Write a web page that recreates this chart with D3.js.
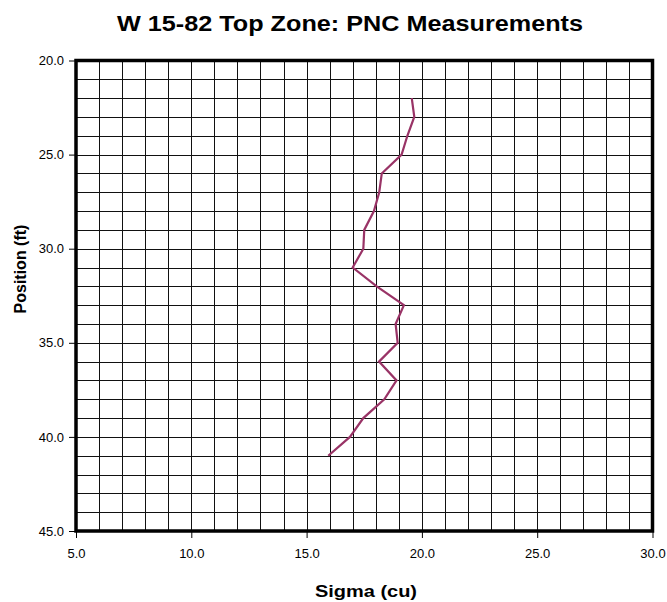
<!DOCTYPE html>
<html>
<head>
<meta charset="utf-8">
<script src="https://cdnjs.cloudflare.com/ajax/libs/d3/7.8.5/d3.min.js"></script>
<style>
  body { margin: 0; background: #fff; }
  text { font-family: "Liberation Sans", Arial, sans-serif; }
</style>
</head>
<body>
<div id="chart"></div>
<script>
// position (ft) down the well, sigma (cu)
var positions = [22, 23, 24, 25, 26, 27, 28, 29, 30, 31, 32, 33, 34, 35, 36, 37, 38, 39, 40, 41];
var sigmas    = [19.56, 19.67, 19.37, 19.12, 18.26, 18.15, 17.92, 17.5, 17.46, 17.0,
                 18.04, 19.22, 18.86, 18.95, 18.14, 18.9, 18.37, 17.46, 16.88, 15.94];
var xTicks = [5, 10, 15, 20, 25, 30];
var yTicks = [20, 25, 30, 35, 40, 45];

var width = 667, height = 602;
var plotLeft = 76, plotTop = 60.5, plotRight = 652.5, plotBottom = 531;

var svg = d3.select("#chart").append("svg")
  .attr("width", width)
  .attr("height", height);

var x = d3.scaleLinear().domain([5, 30]).range([plotLeft, plotRight]);
var y = d3.scaleLinear().domain([20, 45]).range([plotTop, plotBottom]);

// grid, one line per unit
var g = svg.append("g").attr("stroke", "#111").attr("stroke-width", 1).attr("shape-rendering", "crispEdges");
g.selectAll(".vx").data(d3.range(6, 30)).enter().append("line")
  .attr("x1", d => Math.round(x(d)) + 0.5).attr("x2", d => Math.round(x(d)) + 0.5)
  .attr("y1", plotTop).attr("y2", plotBottom);
g.selectAll(".hy").data(d3.range(21, 45)).enter().append("line")
  .attr("y1", d => Math.round(y(d)) + 0.5).attr("y2", d => Math.round(y(d)) + 0.5)
  .attr("x1", plotLeft).attr("x2", plotRight);

// axes
var xAxis = d3.axisBottom(x).tickValues(xTicks).tickSize(7).tickFormat(d3.format(".1f"));
var yAxis = d3.axisLeft(y).tickValues(yTicks).tickSize(7).tickFormat(d3.format(".1f"));

svg.append("g").attr("transform", "translate(0," + plotBottom + ")").call(xAxis)
  .call(a => a.select(".domain").remove())
  .call(a => a.selectAll("text").attr("font-size", 13).attr("fill", "#000").attr("y", 14).attr("dy", "1em"))
  .call(a => a.selectAll("line").attr("stroke", "#000"));
svg.append("g").attr("transform", "translate(" + plotLeft + ",0)").call(yAxis)
  .call(a => a.select(".domain").remove())
  .call(a => a.selectAll("text").attr("font-size", 13).attr("fill", "#000").attr("x", -12))
  .call(a => a.selectAll("line").attr("stroke", "#000"));

// frame
svg.append("rect")
  .attr("x", plotLeft).attr("y", plotTop)
  .attr("width", plotRight - plotLeft).attr("height", plotBottom - plotTop)
  .attr("fill", "none").attr("stroke", "#000").attr("stroke-width", 3.5);

// data line
var pts = positions.map((p, i) => [sigmas[i], p]);
svg.append("path")
  .datum(pts)
  .attr("fill", "none")
  .attr("stroke", "#993366")
  .attr("stroke-width", 2.2)
  .attr("stroke-linejoin", "miter")
  .attr("d", d3.line().x(d => x(d[0])).y(d => y(d[1])));

// titles
svg.append("text")
  .attr("x", 350).attr("y", 31)
  .attr("text-anchor", "middle")
  .attr("font-size", 22).attr("font-weight", "bold")
  .attr("textLength", 466).attr("lengthAdjust", "spacingAndGlyphs")
  .text("W 15-82 Top Zone: PNC Measurements");

svg.append("text")
  .attr("x", 366).attr("y", 597)
  .attr("text-anchor", "middle")
  .attr("font-size", 17).attr("font-weight", "bold")
  .attr("textLength", 102).attr("lengthAdjust", "spacingAndGlyphs")
  .text("Sigma (cu)");

svg.append("text")
  .attr("transform", "translate(26,269) rotate(-90)")
  .attr("text-anchor", "middle")
  .attr("font-size", 16).attr("font-weight", "bold")
  .text("Position (ft)");
</script>
</body>
</html>
